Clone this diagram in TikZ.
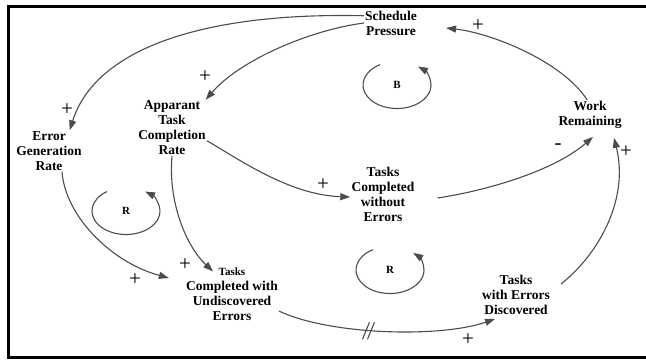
\documentclass[tikz,border=0pt]{standalone}
\usepackage{fontspec}
\setmainfont{Liberation Serif}
\usetikzlibrary{arrows.meta}
\begin{document}
\begin{tikzpicture}[x=1pt, y=-1pt, font=\fontsize{13.5}{15}\selectfont\bfseries,
    var/.style={align=center, inner sep=1pt},
    link/.style={draw=black!70, line width=1.1pt, -{Triangle[length=10pt,width=7pt]}},
    pol/.style={font=\fontsize{21}{21}\selectfont, inner sep=0pt},
    loopmark/.style={font=\fontsize{11}{11}\selectfont\bfseries, inner sep=0pt}]
  \useasboundingbox (0,0) rectangle (646,360);
  \draw[line width=3pt] (646,6) -- (8,6) -- (8,357) -- (646,357);
  % variables
  \node[var] (sp) at (391,23) {Schedule\\Pressure};
  \node[var] (atcr) at (172,128) {Apparant\\Task\\Completion\\Rate};
  \node[var] (egr) at (49,151) {Error\\Generation\\Rate};
  \node[var] (wr) at (590,115) {Work\\Remaining};
  \node[var] (tcwe) at (383,194) {Tasks\\Completed\\without\\Errors};
  \node[var] (tcue) at (232,294) {{\fontsize{11}{15}\selectfont Tasks}\\Completed with\\Undiscovered\\Errors};
  \node[var] (twed) at (516,295) {Tasks\\with Errors\\Discovered};
  % links
  \draw[link] (sp.165) .. controls (200,12) and (95,50) .. (egr.45);
  \draw[link] (sp.west) .. controls (310,30) and (240,60) .. (atcr.40);
  \draw[link] (wr.100) .. controls (562,61) and (491,33) .. ([shift={(28pt,-5pt)}]sp.east);
  \draw[link] ([shift={(22pt,-4pt)}]tcwe.east) .. controls (490,190) and (555,170) .. ([shift={(3pt,-7pt)}]wr.south);
  \draw[link] ([shift={(10pt,-10pt)}]twed.north east) .. controls (600,253) and (629,198) .. ([shift={(24pt,-8pt)}]wr.south);
  \draw[link] (atcr.-20) .. controls (240,160) and (290,195) .. ([yshift=-3pt]tcwe.west);
  \draw[link] (atcr.south) .. controls (168,200) and (185,245) .. ([shift={(-19pt,-5pt)}]tcue.north);
  \draw[link] ([xshift=13pt]egr.south) .. controls (65,215) and (110,262) .. ([shift={(-16pt,16pt)}]tcue.west);
  \draw[link] (tcue.-20) .. controls (330,335) and (440,338) .. ([yshift=-3pt]twed.-135) coordinate[pos=0.43] (dly);
  \draw[draw=black!70, line width=1.1pt] (dly) ++(-6,9) -- ++(7,-17) (dly) ++(-1,9) -- ++(7,-17);
  % polarities
  \foreach \n/\x/\y/\s in {p1/67/110/+, p2/205/77/+, p3/478/26/+, p4/558/147/-, p5/626/152/+,
      p6/323/185/+, p7/185/265/+, p8/135/280/+, p9/468/340/+}
    \node[pol] (\n) at (\x,\y) {\s};
  % loops
  \node[loopmark] (lb) at (397,85) {B};
  \node[loopmark] (lr1) at (126,211) {R};
  \node[loopmark] (lr2) at (390,270) {R};
  \foreach \c/\s/\e in {lb/120/412, lr1/124/416, lr2/120/407}
    \draw[link] ([shift={(\s:34pt and 23.5pt)}]\c.center) arc[start angle=\s, end angle=\e, x radius=34pt, y radius=23.5pt];
\end{tikzpicture}
\end{document}
